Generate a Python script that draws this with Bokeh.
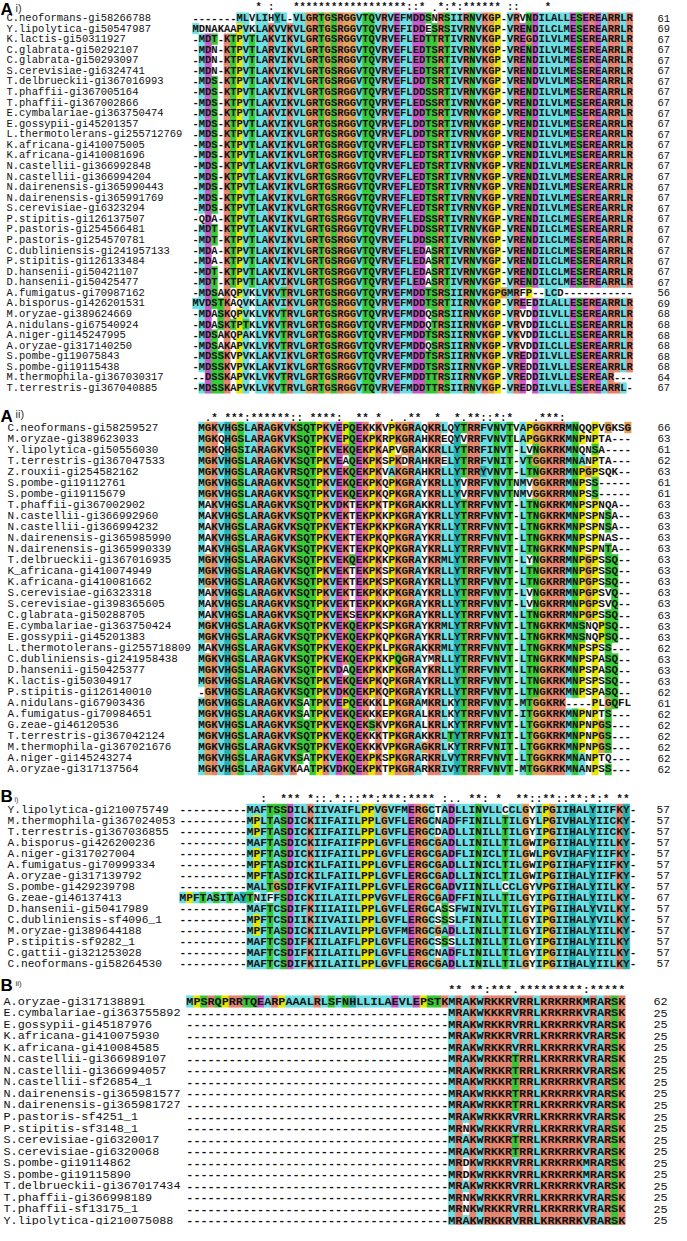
from collections import Counter
from bokeh.plotting import figure
from bokeh.layouts import column
from bokeh.models import Range1d
from bokeh.core.properties import value
from bokeh.embed import file_html
from bokeh.resources import INLINE

# ---------------- data: panel A i ----------------
ai_names = ["C.neoformans-gi58266788", "Y.lipolytica-gi50547987", "K.lactis-gi50311927",
            "C.glabrata-gi50292107", "C.glabrata-gi50293097", "S.cerevisiae-gi6324741",
            "T.delbrueckii-gi367016993", "T.phaffii-gi367005164", "T.phaffii-gi367002866",
            "E.cymbalariae-gi363750474", "E.gossypii-gi45201357", "L.thermotolerans-gi255712769",
            "K.africana-gi410075005", "K.africana-gi410081696", "N.castellii-gi366992848",
            "N.castellii-gi366994204", "N.dairenensis-gi365990443", "N.dairenensis-gi365991769",
            "S.cerevisiae-gi6323294", "P.stipitis-gi126137507", "P.pastoris-gi254566481",
            "P.pastoris-gi254570781", "C.dubliniensis-gi241957133", "P.stipitis-gi126133484",
            "D.hansenii-gi50421107", "D.hansenii-gi50425477", "A.fumigatus-gi70987162",
            "A.bisporus-gi426201531", "M.oryzae-gi389624669", "A.nidulans-gi67540924",
            "A.niger-gi145247995", "A.oryzae-gi317140250", "S.pombe-gi19075843",
            "S.pombe-gi19115438", "M.thermophila-gi367030317", "T.terrestris-gi367040885"]
ai_seqs = [
    "-------MLVLIHYL-VLGRTGSRGGVTQVRVEFMDDSNRSIIRNVKGP-VRVNDILALLESEREARRLR",
    "MDNAKAAPVKLAKVVKVLGRTGSRGGVTQVRVEFIDDESRSIVRNVKGP-VRENDILCLMESEREARRLR",
    "-MDT-KTPVTLAKVIKVLGRTGSRGGVTQVRVEFLEDTTRTIVRNVKGP-VREGDILVLMESEREARRLR",
    "-MDN-KTPVTLARVIKVLGRTGSRGGVTQVRVEFLEDTSRTIVRNVKGP-VRENDILVLMESEREARRLR",
    "-MDN-KTPVTLARVIKVLGRTGSRGGVTQVRVEFLEDTSRTIVRNVKGP-VRENDILVLMESEREARRLR",
    "-MDN-KTPVTLAKVIKVLGRTGSRGGVTQVRVEFLEDTSRTIVRNVKGP-VRENDILVLMESEREARRLR",
    "-MDS-KTPVTLAKVIKVLGRTGSRGGVTQVRVEFLDDTSRTIVRNVKGP-VRENDVLVLMESEREARRLR",
    "-MDS-KTPVTLAKVIKVLGRTGSRGGVTQVRVEFLDDSSRTIVRNVKGP-VRENDILVLMESEREARRLR",
    "-MDS-KTPVTLAKVIKVLGRTGSRGGVTQVRVEFLEDSSRTIVRNVKGP-VRENDILVLMESEREARRLR",
    "-MDS-KTPVTLAKVIKVLGRTGSRGGVTQVRVEFLDDTSRTIVRNVKGP-VRENDILVLMESEREARRLR",
    "-MDS-KTPVTLAKVIKVLGRTGSRGGVTQVRVEFLDDTSRTIVRNVKGP-VRENDILVLMESEREARRLR",
    "-MDS-KTPVTLAKVIKVLGRTGSRGGVTQVRVEFLDDTSRTIVRNVKGP-VRENDILVLMESEREARRLR",
    "-MDS-KTPVTLAKVIKVLGRTGSRGGVTQVRVEFLEDTSRTIVRNVKGP-VRENDILVLMESEREARRLR",
    "-MDS-KTPVTLAKVIKVLGRTGSRGGVTQVRVEFLEDTSRTIVRNVKGP-VRENDILVLMESEREARRLR",
    "-MDS-KTPVTLAKVIKVLGRTGSRGGVTQVRVEFLEDTSRTIVRNVKGP-VRENDILVLMESEREARRLR",
    "-MDS-KTPVTLAKVIKVLGRTGSRGGVTQVRVEFLEDTSRTIVRNVKGP-VRENDILVLMESEREARRLR",
    "-MDS-KTPVTLAKVIKVLGRTGSRGGVTQVRVEFLEDTSRTIVRNVKGP-VRENDILVLMESEREARRLR",
    "-MDS-KTPVTLAKVIKVLGRTGSRGGVTQVRVEFLEDTSRTIVRNVKGP-VRENDILVLMESEREARRLR",
    "-MDS-KTPVTLAKVIKVLGRTGSRGGVTQVRVEFLEDTSRTIVRNVKGP-VRENDILVLMESEREARRLR",
    "-QDA-KTPVTLAKVIKVLGRTGSRGGVTQVRVEFLEDSSRTIVRNVKGP-VRENDILCLMESEREARRLR",
    "-MDT-KTPVTLAKVIKVLGRTGSRGGVTQVRVEFLDDSSRTIVRNVKGP-VRENDILCLMESEREARRLR",
    "-MDT-KTPVTLAKVIKVLGRTGSRGGVTQVRVEFLDDSSRTIVRNVKGP-VRENDILCLMESEREARRLR",
    "-MDA-KTPVTLAKVIKVLGRTGSRGGVTQVRVEFLEDASRTIVRNVKGP-VRENDILCLMESEREARRLR",
    "-MDA-KTPVTLAKVIKVLGRTGSRGGVTQVRVEFLEDASRTIVRNVKGP-VRENDILCLMESEREARRLR",
    "-MDT-KTPVTLAKVIKVLGRTGSRGGVTQVRVEFLEDASRTIVRNVKGP-VRENDILCLMESEREARRLR",
    "-MDT-KTPVTLAKVIKVLGRTGSRGGVTQVRVEFLEDASRTIVRNVKGP-VRENDILCLMESEREARRLR",
    "-MDSAKQPVKLVKVTRVLGRTGSRGGVTQVRVEFMDDTSRSIIRNVKGPGMRFP--LCD-----------",
    "MVDSTKAQVKLAKVIKVLGRTGSRGGVTQVRVEFMDDTSRTIIRNVKGP-VREEDILALLESEREARRLR",
    "-MDASKQPVKLVKVTRVLGRTGSRGGVTQVRVEFMDDQSRSIIRNVKGP-VRVDDILVLLESEREARRLR",
    "-MDASKTPTKLVKVTRVLGRTGSRGGVTQVRVEFMDDQTRSIIRNVKGP-VRVDDILCLLESEREARRLR",
    "-MDSAKQPAKLVKVTRVLGRTGSRGGVTQVRVEFMDDTSRSIIRNVKGP-VKVDDILCLLESEREARRLR",
    "-MDSAKAPVKLVKVTRVLGRTGSRGGVTQVRVEFMDDQSRSIIRNVKGP-VRVDDILCLLESEREARRLR",
    "-MDSSKVPVKLAKVIKVLGRTGSRGGVTQVRVEFMDDTSRSIIRNVKGP-VREDDILVLLESEREARRLR",
    "-MDSSKVPVKLAKVIKVLGRTGSRGGVTQVRVEFMDDTSRSIIRNVKGP-VREDDILVLLESEREARRLR",
    "--DSSKAPVKLVKVTRVLGRTGSRGGVTQVRVEFMDDTTRSIIRNVKGP-VREDDILVLLESEREAR---",
    "-MDSSKAPVKLVKVTRVLGRTGSRGGVTQVRVEFMDDTTRSIIRNVKGP-VREDDILVLLESEREARRL-",
]
ai_lengths = [61, 69, 67, 67, 67, 67, 67, 67, 67, 67, 67, 67, 67, 67, 67, 67, 67, 67,
              67, 67, 67, 67, 67, 67, 67, 67, 56, 69, 68, 68, 68, 68, 68, 68, 64, 67]

# ---------------- data: panel A ii ----------------
aii_names = ["C.neoformans-gi58259527", "M.oryzae-gi389623033", "Y.lipolytica-gi50556030",
             "T.terrestris-gi367047533", "Z.rouxii-gi254582162", "S.pombe-gi19112761",
             "S.pombe-gi19115679", "T.phaffii-gi367002902", "N.castellii-gi366992960",
             "N.castellii-gi366994232", "N.dairenensis-gi365985990", "N.dairenensis-gi365990339",
             "T.delbrueckii-gi367016935", "K_africana-gi410074949", "K.africana-gi410081662",
             "S.cerevisiae-gi6323318", "S.cerevisiae-gi398365605", "C.glabrata-gi50288705",
             "E.cymbalariae-gi363750424", "E.gossypii-gi45201383", "L.thermotolerans-gi255718809",
             "C.dubliniensis-gi241958438", "D.hansenii-gi50425377", "K.lactis-gi50304917",
             "P.stipitis-gi126140010", "A.nidulans-gi67903436", "A.fumigatus-gi70984651",
             "G.zeae-gi46120536", "T.terrestris-gi367042124", "M.thermophila-gi367021676",
             "A.niger-gi145243274", "A.oryzae-gi317137564"]
aii_seqs = [
    "MGKVHGSLARAGKVKSQTPKVEPQEKKKVPKGRAQKRLQYTRRFVNVTVAPGGKRRMNQQPVGKSG",
    "MGKQHGSLARAGKVKSQTPKVEPQEKPKRPKGRAHKREQYVRRFVNVTLAPGGKRKMNPNPTA---",
    "MGKQHGSIARAGKVKSQTPKVEKQEKPKAPVGRAKKRLLYTRRFINVT-LVNGKRKMNQNSA----",
    "MGKVHGSLARAGKVKSQTPKVEAQEKPKSPKDRAHKRELYTRRFVNIT-VTGGKRRMNANPTA---",
    "MGKVHGSLARAGKVRSQTPKVEKQEKPKVAKGRAHKRLLYTRRYVNVT-LTNGKRRMNPGPSQK--",
    "MGKVHGSLARAGKVKSQTPKVEKQEKPKQPKGRAYKRLLYVRRFVNVTNMVGGKRRMNPSS-----",
    "MGKVHGSLARAGKVKSQTPKVEKQEKPKQPKGRAYKRLLYVRRFVNVTNMVGGKRRMNPSS-----",
    "MAKVHGSLARAGKVKSQTPKVDKTEKPKTPKGRAKKRLLYTRRFVNVT-LTNGKRKMNPSPNQA--",
    "MAKVHGSLARAGKVKSQTPKVEKTEKPKKPKGRAYKRLLYTRRFVNVT-LTNGKRKMNPSPNSA--",
    "MAKVHGSLARAGKVKSQTPKVEKTEKPKKPKGRAYKRLLYTRRFVNVT-LTNGKRKMNPSPNSA--",
    "MAKVHGSLARAGKVKSQTPKVEKTEKPKQPKGRAYKRLLYTRRFVNVT-LTNGKRKMNPSPNAS--",
    "MAKVHGSLARAGKVKSQTPKVEKTEKPKQPKGRAYKRLLYTRRFVNVT-LTNGKRKMNPSPNTA--",
    "MGKVHGSLARAGKVKSQTPKVEKQEKPKKPKGRAYKRMLYTRRFVNVT-LYNGKRRMNPGPSSQ--",
    "MGKVHGSLARAGKVKSQTPKVEKTEKPKSPKGRAYKRLLYTRRFVNVT-LTNGKRRMNPGPSSQ--",
    "MGKVHGSLARAGKVKSQTPKVEKTEKPKSPKGRAYKRLLYTRRFVNVT-LTNGKRRMNPGPSSQ--",
    "MAKVHGSLARAGKVKSQTPKVEKTEKPKKPKGRAYKRLLYTRRFVNVT-LVNGKRRMNPGPSVQ--",
    "MAKVHGSLARAGKVKSQTPKVEKTEKPKKPKGRAYKRLLYTRRFVNVT-LVNGKRRMNPGPSVQ--",
    "MAKVHGSLARAGKVKSQTPKVEKSEKPKKPKGRAYKRLLYTRRFVNVT-LTNGKRRMNPGPSSQ--",
    "MGKVHGSLARAGKVKSQTPKVEKQEKPKSPKGRAYKRMLYTRRFVNVT-LTNGKRKMNSNQPSQ--",
    "MGKVHGSLARAGKVKSQTPKVEKQEKPKQPKGRAYKRLLYTRRFVNVT-LTNGKRKMNSNQPSQ--",
    "MAKVHGSLARAGKVKSQTPKVEKQEKPKLPKGRAKKRMLYTRRFVNVT-LTNGKRKMNPSPSS---",
    "MGKVHGSLARAGKVKSQTPKVEKQEKPKKPQGRAYMRLLYTRRFVNVT-LTNGKRKMNPSPASQ--",
    "MGKVHGSLARAGKVKSQTPKVDAQEKPKKPKGRAYKRLLYTRRFVNVT-LTNGKRKMNPSPASQ--",
    "MGKVHGSLARAGKVKSQTPKVEKQEKPKQPKGRAYKRLLYTRRFVNVT-LTNGKRKMNPSPSSQ--",
    "-GKVHGSLARAGKVKSQTPKVDKQEKPKQPKGRAYKRLLYTRRFVNVT-LTNGKRKMNPSPASQ--",
    "MGKVHGSLARAGKVKSATPKVEPQEKKKLPKGRAMKRLKYTRRFVNVT-MTGGKRK----PLGQFL",
    "MGKVHGSLARAGKVKSATPKVEKQEKKKEPKGRALKRLKYTRRFVNVT-ITGGKRKMNPNPTS---",
    "MGKVHGSLARAGKVKSQTPKVEKQEKSKVPKGRALKRLKYTRRFVNVT-LTGGKRKMNPNPGS---",
    "MGKVHGSLARAGKVKSQTPKVEKQEKKKTPKGRAKKRLTYTRRFVNIT-LTGGKRKMNPNPGS---",
    "MGKVHGSLARAGKVKSQTPKVEKQEKKKVPKGRAGKRLKYTRRFVNIT-LTGGKRKMNPNPGS---",
    "MGKVHGSLARAGKVKSATPKVEKQEKPKSPKGRARKRLVYTRRFVNVT-LTGGKRKMNANPTQ---",
    "MGKVHGSLARAGKVKAATPKVDKQEKPKTPKGRARKRIVYTRRFVNVT-MTGGKRKMNANPSS---",
]
aii_lengths = [66, 63, 61, 62, 63, 61, 61, 63, 63, 63, 63, 63, 63, 63, 63, 63, 63, 63,
               63, 63, 62, 63, 63, 63, 62, 61, 62, 62, 62, 62, 62, 62]

# ---------------- data: panel B i ----------------
bi_names = ["Y.lipolytica-gi210075749", "M.thermophila-gi367024053", "T.terrestris-gi367036855",
            "A.bisporus-gi426200236", "A.niger-gi317027004", "A.fumigatus-gi70999334",
            "A.oryzae-gi317139792", "S.pombe-gi429239798", "G.zeae-gi46137413",
            "D.hansenii-gi50417989", "C.dubliniensis-sf4096_1", "M.oryzae-gi389644188",
            "P.stipitis-sf9282_1", "C.gattii-gi321253028", "C.neoformans-gi58264530"]
bi_seqs = [
    "----------MAFTSSDILKIIVAIFLPPVGVFMERGCTADLLINVLLCCLGYIPGIIHALYIIFKY-",
    "----------MPLTASDICKIIFAIILPPLGVFLERGCNADFFINILLTILGYLPGIVHALYIICKY-",
    "----------MPFTASDICKIIFAIILPPLGVFLERGCDADLLINILLTILGYIPGIIHALYIICKY-",
    "----------MAFTASDICKIIFAIIFPPLGVFLERGCGADLLINILLTILGWIPGIIHALYIILKY-",
    "----------MPFTASDICKIIFAIILPPLGVFLERGCGADFLINICLTILGWLPGVIHAFYIIFKY-",
    "----------MPFTASDICKILFAIILPPLGVFLERGCGADLLINICLTILGWIPGIIHAFYIIFKY-",
    "----------MPFTASDICKILFAIILPPLGVFLERGCGADLLINICLTILGWIPGIIHALYIIFKY-",
    "----------MALTGSDIFKVIFAIILPPLGVFLERGCGADVIINILLCCLGYVPGIIHALYIILKY-",
    "MPFTASITAYTNIFFSDICKIILAIILPPVGVFLERGCGADFFINILLTILGYIPGIIHALYIILKY-",
    "----------MAFTCSDIFKIIIAIILPPLGVFLERGCASSFWINIVLTILGYIPGIIHALYVILKY-",
    "----------MPFTCSDIIKIIVAIILPPLGVFLERGCSSSLFINILLTILGYIPGIIHALYVILKY-",
    "----------MPFTASDICKIILAVILPPLGVFMERGCGADLLINILLTILGYIPGIIHALYIILKY-",
    "----------MAFTCSDIFKIILAIFLPPLGVFLERGCSSSLLINILLTILGYIPGIIHALYIILKY",
    "----------MAFTCSDIFKIILAIILPPLGVFLERGCNADFLINILLTILGYIPGIIHALYIILKY-",
    "----------MAFTCSDIFKIILAIILPPLGVFLERGCGADLLINILLTILGYIPGIIHALYIILKY-",
]
bi_lengths = [57, 57, 57, 57, 57, 57, 57, 57, 67, 57, 57, 57, 57, 57, 57]

# ---------------- data: panel B ii ----------------
bii_names = ["A.oryzae-gi317138891", "E.cymbalariae-gi363755892", "E.gossypii-gi45187976",
             "K.africana-gi410075930", "K.africana-gi410084585", "N.castellii-gi366989107",
             "N.castellii-gi366994057", "N.castellii-sf26854_1", "N.dairenensis-gi365981577",
             "N.dairenensis-gi365981727", "P.pastoris-sf4251_1", "P.stipitis-sf3148_1",
             "S.cerevisiae-gi6320017", "S.cerevisiae-gi6320068", "S.pombe-gi19114862",
             "S.pombe-gi19115890", "T.delbrueckii-gi367017434", "T.phaffii-gi366998189",
             "T.phaffii-sf13175_1", "Y.lipolytica-gi210075088"]
GAP37 = "-------------------------------------"
bii_seqs = [
    "MPSRQPRRTQEARPAAALRLSFNHLLILAEVLEPSTKMRAKWRKKRVRRLKRKRRKMRARSK",
    GAP37 + "MRAKWKKKRVRRLKRKRRKVRARSK",
    GAP37 + "MRAKWRKKRVRRLKRKRRKVRARSK",
    GAP37 + "MRAKWRKKRVRRLKRKRRKVRARSK",
    GAP37 + "MRAKWRKKRVRRLKRKRRKVRARSK",
    GAP37 + "MRAKWRKKRTRRLKRKRRKVRARSK",
    GAP37 + "MRAKWRKKRTRRLKRKRRKVRARSK",
    GAP37 + "MRAKWRKKRTRRLKRKRRKVRARSK",
    GAP37 + "MRAKWRKKRTRRLKRKRRKVRARSK",
    GAP37 + "MRAKWRKKRTRRLKRKRRKVRARSK",
    GAP37 + "MRAKWRKKRVRRLKRKRRKVRARSK",
    GAP37 + "MRNKWRKKRVRRLKRKRRKVRARSK",
    GAP37 + "MRAKWRKKRTRRLKRKRRKVRARSK",
    GAP37 + "MRAKWRKKRTRRLKRKRRKVRARSK",
    GAP37 + "MRDKWRKKRVRRLKRKRRKMRARSK",
    GAP37 + "MRDKWRKKRVRRLKRKRRKMRARSK",
    GAP37 + "MRAKWRKKRVRRLKRKRRKVRARSK",
    GAP37 + "MRNKWRKKRVRRLKRKRRKVRARSK",
    GAP37 + "MRNKWRKKRVRRLKRKRRKVRARSK",
    GAP37 + "MRAKWRKKRVRRLKRKRRKVRARSK",
]
bii_lengths = [62] + [25] * 19

# ---------------- styling ----------------
PALETTE = {"BLUE": "#6adfe3", "RED": "#e5846e", "MAGENTA": "#c957c9", "GREEN": "#34c934",
           "ORANGE": "#e1a355", "YELLOW": "#e6e600", "CYAN": "#24b1b1", "PINK": "#ef8a8a"}
MONO = "Liberation Mono"
SANS = "Liberation Sans"
W = 671

HYD = "WLVIMAFCHP"
STRONG = ["STA", "NEQK", "NHQK", "NDEQ", "QHRK", "MILV", "MILF", "HY", "FYW"]
WEAK = ["CSA", "ATV", "SAG", "STNK", "STPA", "SGND", "SNDEQK", "NDEQHK", "NEQHRK", "FVLIM", "HFY"]


def clustalx_table(seqs):
    width = max(len(s) for s in seqs)
    table = []
    for j in range(width):
        res = [s[j] for s in seqs if j < len(s) and s[j] != "-"]
        n = max(len(res), 1)
        c = Counter(res)

        def f(letters):
            return sum(c[a] for a in letters) / n

        def anyover(letters, t):
            return any(c[a] / n > t for a in letters)

        hyd = f(HYD) > 0.6
        kr = f("KR") > 0.6
        col = {}
        for a in set(res):
            colour = None
            if a in "AILMFWV":
                colour = "BLUE" if hyd else None
            elif a == "C":
                if hyd:
                    colour = "BLUE"
                elif c["C"] / n > 0.85:
                    colour = "PINK"
            elif a in "KR":
                if kr or anyover("KRQ", 0.8):
                    colour = "RED"
            elif a == "E":
                if kr or f("QE") > 0.5 or f("ED") > 0.5 or anyover("EQD", 0.85):
                    colour = "MAGENTA"
            elif a == "D":
                if kr or anyover("KRQ", 0.85) or f("ED") > 0.5:
                    colour = "MAGENTA"
            elif a == "N":
                if c["N"] / n > 0.5 or anyover("NY", 0.85):
                    colour = "GREEN"
            elif a == "Q":
                if kr or f("QE") > 0.5 or anyover("QEKR", 0.85):
                    colour = "GREEN"
            elif a in "ST":
                if hyd or f("TS") > 0.5 or anyover("ST", 0.85):
                    colour = "GREEN"
            elif a == "G":
                colour = "ORANGE"
            elif a == "P":
                colour = "YELLOW"
            elif a in "HY":
                if hyd or anyover("WYACPQFHILMV", 0.85):
                    colour = "CYAN"
            col[a] = colour
        table.append(col)
    return table


def conservation(seqs):
    width = max(len(s) for s in seqs)
    out = []
    for j in range(width):
        col = [s[j] if j < len(s) else "-" for s in seqs]
        if "-" in col:
            out.append("")
            continue
        st = set(col)
        if len(st) == 1:
            out.append("*")
        elif any(st <= set(g) for g in STRONG):
            out.append(":")
        elif any(st <= set(g) for g in WEAK):
            out.append(".")
        else:
            out.append("")
    return out


def make_panel(names, seqs, lengths, big, small, g):
    cw, rh = g["cw"], g["rh"]

    def xd(px):
        return 0.5 + (px - g["seq_left"]) / cw

    def yd(py):
        return 1 + (py - g["row1"]) / rh

    top, H = g["top"], g["H"]
    p = figure(width=W, height=H, output_backend="svg", toolbar_location=None,
               x_range=Range1d(xd(8), xd(8 + W)),
               y_range=Range1d(yd(top + H), yd(top)),
               x_axis_type=None, y_axis_type=None, min_border=0)
    p.grid.visible = False
    p.outline_line_color = None
    p.background_fill_color = "white"
    p.border_fill_color = "white"

    table = clustalx_table(seqs)
    cx, cy, cc, tx, ty, tt = [], [], [], [], [], []
    for i, s in enumerate(seqs):
        for j, ch in enumerate(s):
            tx.append(j + 1)
            ty.append(i + 1)
            tt.append(ch)
            colour = table[j].get(ch) if ch != "-" else None
            if colour:
                cx.append(j + 1)
                cy.append(i + 1)
                cc.append(PALETTE[colour])
    p.rect(x=cx, y=cy, width=1, height=1, fill_color=cc, line_color=cc, line_width=0.5)

    fs = "%.2fpx" % (cw / 0.6)
    p.text(x=tx, y=ty, text=tt, text_font=value(MONO), text_font_size=fs,
           text_font_style="bold", text_align="center", text_baseline="middle",
           text_color="#111111")

    cons = conservation(seqs)
    kx = [j + 1 for j, s in enumerate(cons) if s]
    ks = [s for s in cons if s]
    p.text(x=kx, y=[yd(g["cons"])] * len(kx), text=ks, text_font=value(MONO),
           text_font_size=fs, text_font_style="bold", text_align="center",
           text_baseline="middle", text_color="#111111")

    rows = list(range(1, len(names) + 1))
    p.text(x=[xd(g["name_left"])] * len(names), y=rows, text=names,
           text_font=value(MONO), text_font_size=fs, text_align="left",
           text_baseline="middle", text_color="#111111")
    p.text(x=[xd(g["num_left"])] * len(names), y=rows, text=[str(v) for v in lengths],
           text_font=value(MONO), text_font_size=fs, text_align="left",
           text_baseline="middle", text_color="#111111")

    p.text(x=[xd(8)], y=[yd(g["lab_top"])], text=[big], text_font=value(SANS),
           text_font_size="17px", text_font_style="bold", text_align="left",
           text_baseline="top", text_color="black")
    p.text(x=[xd(g["sub_x"])], y=[yd(g["sub_top"])], text=[small], text_font=value(SANS),
           text_font_size=g["sub_size"], text_align="left", text_baseline="top",
           text_color="#333333")
    return p


G_AI = dict(cw=6.29, rh=10.57, seq_left=200.0, row1=25.5, top=8, H=402, cons=14.5,
            name_left=14, num_left=665, lab_top=7, sub_x=23, sub_top=9, sub_size="11px")
G_AII = dict(cw=6.56, rh=11.03, seq_left=205.7, row1=435.0, top=410, H=380, cons=425.0,
             name_left=15, num_left=665, lab_top=414, sub_x=23, sub_top=415, sub_size="11px")
G_BI = dict(cw=6.72, rh=11.0, seq_left=187.0, row1=817.0, top=790, H=193, cons=806.0,
            name_left=15, num_left=664, lab_top=794, sub_x=22, sub_top=803, sub_size="7px")
G_BII = dict(cw=7.08, rh=11.55, seq_left=193.8, row1=1009.0, top=983, H=250, cons=997.0,
             name_left=11, num_left=661, lab_top=983, sub_x=23, sub_top=986, sub_size="8px")

p1 = make_panel(ai_names, ai_seqs, ai_lengths, "A", "i)", G_AI)
p2 = make_panel(aii_names, aii_seqs, aii_lengths, "A", "ii)", G_AII)
p3 = make_panel(bi_names, bi_seqs, bi_lengths, "B", "i)", G_BI)
p4 = make_panel(bii_names, bii_seqs, bii_lengths, "B", "ii)", G_BII)

layout = column(p1, p2, p3, p4, spacing=0)
open("out.html", "w").write(file_html(layout, INLINE))
